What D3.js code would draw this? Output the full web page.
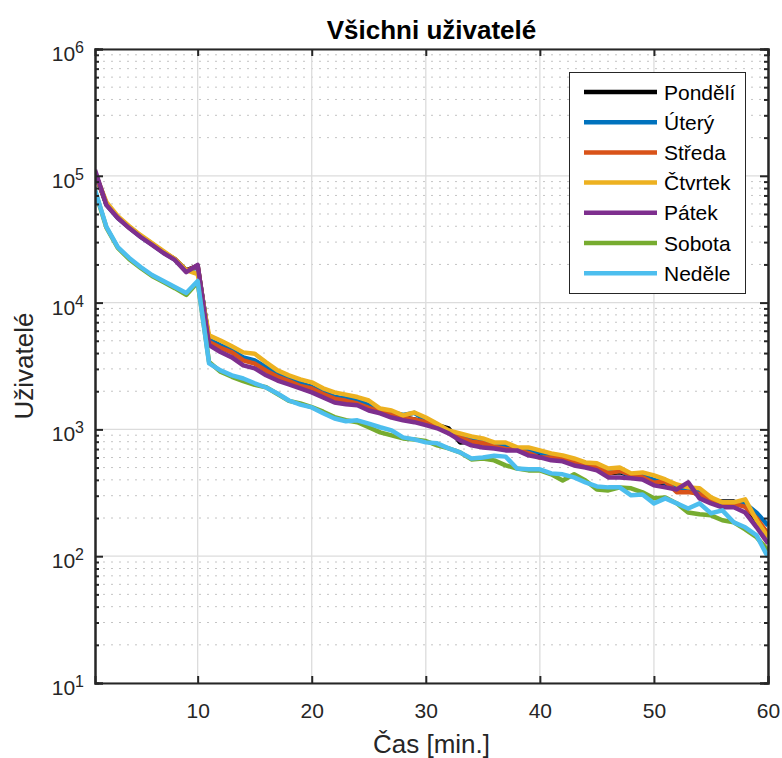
<!DOCTYPE html>
<html lang="cs">
<head>
<meta charset="utf-8" />
<title>Všichni uživatelé</title>
<style>
	body { margin: 0; padding: 0; background: #fff; }
	text { font-family: 'Liberation Sans', Arial, sans-serif; }
</style>
<script src="https://d3js.org/d3.v7.min.js"></script>
</head>
<body>
<div id="chart"></div>
<script>
// minutes 1..60
const minutes = d3.range(1, 61);

const dayNames = ["Pondělí", "Úterý", "Středa", "Čtvrtek", "Pátek", "Sobota", "Neděle"];
const dayColors = ["#000000", "#0072BD", "#D95319", "#EDB120", "#7E2F8E", "#77AC30", "#4DBEEE"];

const pondeli = [106000, 60000, 47000, 39500, 33500, 29000, 25000, 22000, 18000, 19500,
	5000, 4500, 4100, 3600, 3400, 3000, 2700, 2450, 2300, 2150,
	1950, 1800, 1700, 1650, 1500, 1400, 1350, 1250, 1200, 1150,
	1080, 1020, 790, 800, 780, 740, 700, 690, 650, 640,
	600, 580, 550, 520, 500, 450, 460, 430, 420, 380,
	370, 350, 340, 300, 270, 270, 270, 250, 190, 150];
const utery = [105000, 59000, 46500, 39000, 33000, 28800, 24800, 21800, 17800, 19000,
	5100, 4600, 4200, 3700, 3500, 3100, 2750, 2500, 2300, 2150,
	1950, 1800, 1750, 1700, 1550, 1420, 1370, 1300, 1350, 1180,
	1060, 960, 880, 820, 790, 750, 740, 700, 670, 660,
	610, 590, 560, 520, 505, 460, 470, 430, 430, 400,
	380, 350, 330, 320, 280, 260, 265, 260, 220, 175];
const streda = [104000, 60000, 47000, 39000, 33500, 29000, 25000, 22000, 17800, 19500,
	4900, 4400, 4050, 3500, 3300, 2900, 2600, 2400, 2200, 2100,
	1900, 1750, 1680, 1600, 1480, 1380, 1300, 1240, 1200, 1140,
	1060, 980, 860, 800, 780, 730, 700, 690, 650, 600,
	600, 590, 560, 520, 500, 450, 470, 440, 420, 380,
	390, 320, 320, 310, 280, 265, 260, 245, 200, 150];
const ctvrtek = [105000, 62000, 48000, 40000, 34000, 29500, 25500, 22000, 18000, 16800,
	5510, 5030, 4520, 4050, 3950, 3380, 2920, 2670, 2480, 2350,
	2110, 1960, 1880, 1800, 1690, 1460, 1410, 1290, 1360, 1240,
	1110, 982, 930, 881, 849, 789, 789, 721, 721, 683,
	647, 624, 590, 549, 540, 492, 501, 450, 458, 434,
	403, 368, 349, 343, 291, 266, 266, 281, 192, 141];
const patek = [111000, 58900, 46500, 38700, 32900, 28500, 24600, 21700, 17400, 19800,
	4630, 4080, 3700, 3200, 3030, 2670, 2430, 2260, 2110, 1960,
	1790, 1630, 1580, 1550, 1410, 1340, 1240, 1180, 1140, 1080,
	1020, 930, 819, 748, 721, 708, 683, 683, 624, 601,
	570, 560, 520, 501, 475, 418, 418, 411, 403, 362,
	349, 336, 382, 286, 261, 243, 243, 221, 169, 126];
const sobota = [76000, 39000, 27000, 22000, 18800, 16200, 14500, 13000, 11500, 14500,
	3400, 2850, 2600, 2400, 2250, 2150, 1900, 1680, 1600, 1500,
	1380, 1250, 1180, 1140, 1040, 947, 897, 849, 834, 810,
	748, 708, 659, 580, 590, 570, 520, 492, 475, 475,
	442, 396, 442, 396, 336, 330, 349, 343, 319, 286,
	291, 261, 221, 214, 210, 192, 185, 163, 141, 111];
const nedele = [77300, 39500, 27400, 22500, 19100, 16500, 14800, 13300, 11900, 14800,
	3320, 2920, 2670, 2520, 2310, 2140, 1920, 1690, 1570, 1490,
	1340, 1220, 1160, 1180, 1110, 1040, 982, 865, 834, 790,
	776, 708, 659, 590, 601, 620, 610, 492, 484, 484,
	450, 442, 418, 382, 355, 349, 349, 302, 307, 261,
	286, 261, 238, 261, 218, 230, 185, 169, 146, 98];

const series = [pondeli, utery, streda, ctvrtek, patek, sobota, nedele];

const xTicks = [10, 20, 30, 40, 50, 60];
const yTickExps = [1, 2, 3, 4, 5, 6];

const W = 782, H = 758;
const L = 95, T = 49, R = 768, B = 683;

const svg = d3.select("#chart").append("svg")
	.attr("width", W).attr("height", H);

const x = d3.scaleLinear().domain([1, 60]).range([L, R]);
const y = d3.scaleLog().domain([10, 1e6]).range([B, T]);

// minor grid (dotted)
const minorVals = [];
yTickExps.slice(0, -1).forEach(e => {
	for (let k = 2; k <= 9; k++) minorVals.push(k * Math.pow(10, e));
});
svg.append("g").selectAll("line").data(minorVals).enter().append("line")
	.attr("x1", L).attr("x2", R)
	.attr("y1", d => y(d)).attr("y2", d => y(d))
	.attr("stroke", "#c4c4c4").attr("stroke-width", 1)
	.attr("stroke-dasharray", "2,6");

// major grid
svg.append("g").selectAll("line").data(yTickExps).enter().append("line")
	.attr("x1", L).attr("x2", R)
	.attr("y1", d => y(Math.pow(10, d))).attr("y2", d => y(Math.pow(10, d)))
	.attr("stroke", "#dcdcdc").attr("stroke-width", 1.3);
svg.append("g").selectAll("line").data(xTicks).enter().append("line")
	.attr("y1", T).attr("y2", B)
	.attr("x1", d => x(d)).attr("x2", d => x(d))
	.attr("stroke", "#dcdcdc").attr("stroke-width", 1.3);

// series
svg.append("clipPath").attr("id", "clip")
	.append("rect").attr("x", L).attr("y", T).attr("width", R - L).attr("height", B - T);

const line = d3.line()
	.x((d, i) => x(minutes[i]))
	.y(d => y(d));

svg.append("g").attr("clip-path", "url(#clip)")
	.selectAll("path").data(series).enter().append("path")
	.attr("d", line)
	.attr("fill", "none")
	.attr("stroke", (d, i) => dayColors[i])
	.attr("stroke-width", 4.5)
	.attr("stroke-linejoin", "round");

// axes
const axisColor = "#262626";
const xAxisB = d3.axisBottom(x).tickValues(xTicks).tickSize(-7).tickPadding(20);
const gx = svg.append("g").attr("transform", `translate(0,${B})`).call(xAxisB);
const xAxisT = d3.axisTop(x).tickValues(xTicks).tickSize(-7).tickFormat("");
const gxt = svg.append("g").attr("transform", `translate(0,${T})`).call(xAxisT);

const yAxisL = d3.axisLeft(y).tickValues(yTickExps.map(e => Math.pow(10, e))).tickSize(-8).tickFormat("");
const gy = svg.append("g").attr("transform", `translate(${L},0)`).call(yAxisL);
const yAxisR = d3.axisRight(y).tickValues(yTickExps.map(e => Math.pow(10, e))).tickSize(-8).tickFormat("");
const gyr = svg.append("g").attr("transform", `translate(${R},0)`).call(yAxisR);

const yMinL = d3.axisLeft(y).tickValues(minorVals).tickSize(-4).tickFormat("");
const gym = svg.append("g").attr("transform", `translate(${L},0)`).call(yMinL);
const yMinR = d3.axisRight(y).tickValues(minorVals).tickSize(-4).tickFormat("");
const gymr = svg.append("g").attr("transform", `translate(${R},0)`).call(yMinR);

[gx, gxt, gy, gyr, gym, gymr].forEach(g => {
	g.select(".domain").attr("stroke", axisColor).attr("stroke-width", 2);
	g.selectAll(".tick line").attr("stroke", axisColor).attr("stroke-width", 2);
});
gx.selectAll(".tick text")
	.attr("fill", axisColor).attr("font-size", 21)
	.attr("font-family", "'Liberation Sans', Arial, sans-serif");

// y tick labels with superscripts
const ylab = svg.append("g").selectAll("text").data(yTickExps).enter().append("text")
	.attr("x", 84).attr("y", d => y(Math.pow(10, d)) + 12)
	.attr("text-anchor", "end")
	.attr("fill", axisColor).attr("font-size", 21);
ylab.append("tspan").text("10");
ylab.append("tspan").attr("dy", -8).attr("font-size", 16).text(d => d);

// titles
svg.append("text").attr("x", (L + R) / 2).attr("y", 39)
	.attr("text-anchor", "middle").attr("font-size", 26).attr("font-weight", "bold")
	.attr("fill", "#000").text("Všichni uživatelé");
svg.append("text").attr("x", (L + R) / 2).attr("y", 753)
	.attr("text-anchor", "middle").attr("font-size", 26)
	.attr("fill", axisColor).text("Čas [min.]");
svg.append("text").attr("transform", `translate(33,366) rotate(-90)`)
	.attr("text-anchor", "middle").attr("font-size", 26)
	.attr("fill", axisColor).text("Uživatelé");

// legend
const lg = svg.append("g");
lg.append("rect").attr("x", 569.5).attr("y", 72.5).attr("width", 176).attr("height", 221)
	.attr("fill", "#fff").attr("stroke", axisColor).attr("stroke-width", 1);
const items = lg.selectAll("g.item").data(dayNames).enter().append("g")
	.attr("transform", (d, i) => `translate(0,${92 + i * 30.2})`);
items.append("line").attr("x1", 584).attr("x2", 657).attr("y1", 0).attr("y2", 0)
	.attr("stroke", (d, i) => dayColors[i]).attr("stroke-width", 4.5);
items.append("text").attr("x", 664).attr("y", 7.5)
	.attr("font-size", 21).attr("fill", "#000").text(d => d);
</script>
</body>
</html>
